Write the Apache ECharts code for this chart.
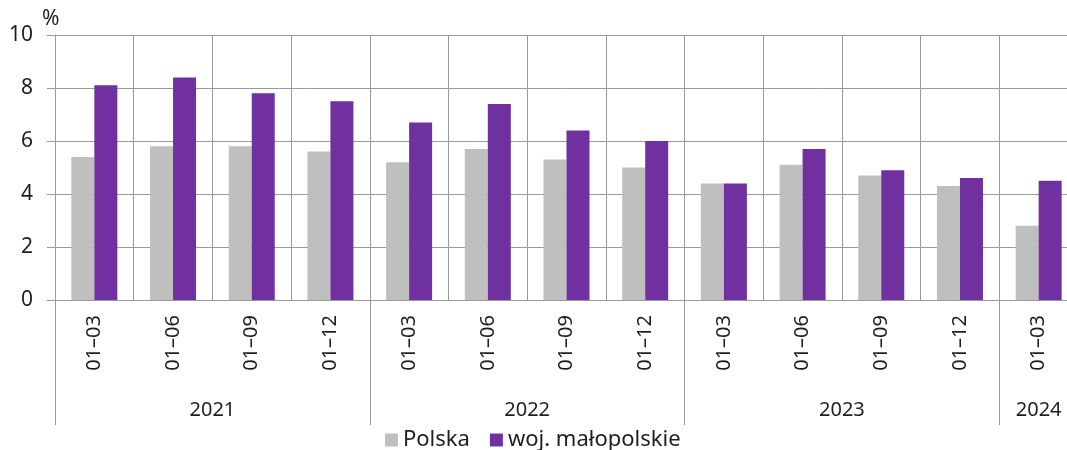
<!DOCTYPE html>
<html>
<head>
<meta charset="utf-8">
<script src="https://cdn.jsdelivr.net/npm/echarts@6/dist/echarts.min.js"></script>
<style>
  html, body { margin: 0; padding: 0; background: #fff; overflow: hidden; }
  /* the plot runs past the right edge of the picture, as in the original */
  #chart { width: 1078px; height: 450px; }
</style>
</head>
<body>
<div id="chart"></div>
<script>
// okresy (kategorie) i lata, do których należą
var periods = ['01–03', '01–06', '01–09', '01–12', '01–03', '01–06', '01–09', '01–12', '01–03', '01–06', '01–09', '01–12', '01–03'];
var periodYears = ['2021', '2021', '2021', '2021', '2022', '2022', '2022', '2022', '2023', '2023', '2023', '2023', '2024'];
var polska = [5.4, 5.8, 5.8, 5.6, 5.2, 5.7, 5.3, 5.0, 4.4, 5.1, 4.7, 4.3, 2.8];
var malopolskie = [8.1, 8.4, 7.8, 7.5, 6.7, 7.4, 6.4, 6.0, 4.4, 5.7, 4.9, 4.6, 4.5];
var yTicks = [0, 2, 4, 6, 8, 10];

var FONT = '"Noto Sans", sans-serif';
var LINE = '#9a9a9a';
var TEXT = '#1e1e1e';

// granice grup lat i środki grup (w jednostkach kategorii)
var yearBounds = [0];
var yearCenters = [];
var yearNames = [];
var start = 0;
for (var i = 1; i <= periodYears.length; i++) {
  if (i === periodYears.length || periodYears[i] !== periodYears[i - 1]) {
    yearBounds.push(i);
    yearCenters.push((start + i) / 2);
    yearNames.push(periodYears[start]);
    start = i;
  }
}

var chart = echarts.init(document.getElementById('chart'));
chart.setOption({
  animation: false,
  textStyle: { fontFamily: FONT },
  title: {
    text: '%',
    left: 37,
    top: 4,
    textStyle: { fontFamily: FONT, fontSize: 21, fontWeight: 'normal', color: TEXT }
  },
  legend: {
    left: 380,
    top: 424,
    icon: 'rect',
    itemWidth: 13,
    itemHeight: 13,
    itemGap: 20,
    textStyle: { fontFamily: FONT, fontSize: 22, color: TEXT },
    data: ['Polska', 'woj. małopolskie']
  },
  grid: {
    left: 55,
    top: 35,
    right: 0,
    bottom: 150,
    containLabel: false
  },
  xAxis: [{
    type: 'category',
    data: periods,
    axisLine: { show: true, lineStyle: { color: LINE, width: 1 } },
    axisTick: { show: false },
    splitLine: { show: true, lineStyle: { color: LINE, width: 1 } },
    axisLabel: {
      rotate: 90,
      margin: 15,
      interval: 0,
      fontFamily: FONT,
      fontSize: 20,
      color: TEXT
    }
  }, {
    type: 'value',
    min: 0,
    max: periods.length,
    position: 'bottom',
    axisLine: { show: false },
    splitLine: { show: false },
    axisTick: {
      show: true,
      length: 125,
      customValues: yearBounds,
      lineStyle: { color: LINE, width: 1 }
    },
    axisLabel: {
      show: true,
      margin: 100,
      customValues: yearCenters,
      fontFamily: FONT,
      fontSize: 20,
      color: TEXT,
      formatter: function (v) {
        var k = yearCenters.indexOf(v);
        return k >= 0 ? yearNames[k] : '';
      }
    }
  }],
  yAxis: {
    type: 'value',
    min: yTicks[0],
    max: yTicks[yTicks.length - 1],
    interval: 2,
    axisLine: { show: true, lineStyle: { color: LINE, width: 1 } },
    axisTick: { show: true, length: 8, lineStyle: { color: LINE, width: 1 } },
    splitLine: { show: true, lineStyle: { color: LINE, width: 1 } },
    axisLabel: { margin: 22, fontFamily: FONT, fontSize: 21, color: TEXT }
  },
  series: [{
    name: 'Polska',
    type: 'bar',
    xAxisIndex: 0,
    barWidth: 23,
    barGap: '0%',
    itemStyle: { color: '#bfbfbf' },
    data: polska
  }, {
    name: 'woj. małopolskie',
    type: 'bar',
    xAxisIndex: 0,
    barWidth: 23,
    barGap: '0%',
    itemStyle: { color: '#7030a0' },
    data: malopolskie
  }]
});
</script>
</body>
</html>
